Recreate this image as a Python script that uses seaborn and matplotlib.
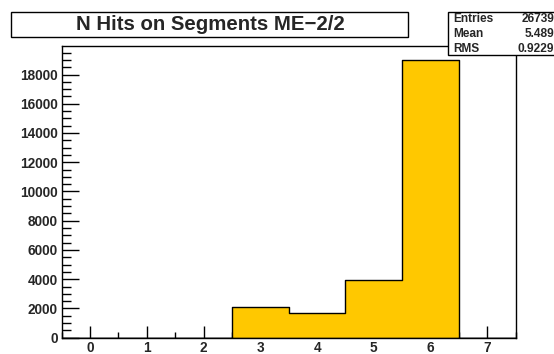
import numpy as np
import pandas as pd
import matplotlib
matplotlib.use("Agg")
import matplotlib.pyplot as plt
from matplotlib.patches import Rectangle
from matplotlib.ticker import MultipleLocator
import seaborn as sns

# Histogram contents: number of hits per segment (bins 0..7)
n_hits = [0, 1, 2, 3, 4, 5, 6, 7]
counts = [0, 0, 0, 2125, 1675, 3939, 19000, 0]
x_ticks = [0, 1, 2, 3, 4, 5, 6, 7]
y_ticks = [0, 2000, 4000, 6000, 8000, 10000, 12000, 14000, 16000, 18000]
title = "N Hits on Segments ME\u22122/2"
stat_names = ["Entries", "Mean", "RMS"]
stat_values = ["26739", "5.489", "0.9229"]

sns.set_theme(style="white")
plt.rcParams["font.family"] = ["Liberation Sans", "DejaVu Sans"]
plt.rcParams["font.weight"] = "bold"

W, H = 554, 354
fig = plt.figure(figsize=(W / 100, H / 100), dpi=100)
fig.patch.set_facecolor("white")


def fx(x):
    return x / W


def fy(y):
    return 1 - y / H


left, right, top, bottom = 61.7, 515.7, 46.0, 337.7
ax = fig.add_axes([fx(left), fy(bottom), fx(right) - fx(left), fy(top) - fy(bottom)])

df = pd.DataFrame({"nhits": n_hits, "count": counts})
sns.histplot(
    data=df, x="nhits", weights="count",
    binwidth=1.0, binrange=(-0.5, 7.5),
    element="step", fill=True, color="#ffc800", alpha=1.0,
    edgecolor="black", linewidth=1.0, ax=ax,
)

ax.set_xlim(-0.5, 7.5)
ax.set_ylim(0, max(counts) * 1.05)
ax.set_xlabel("")
ax.set_ylabel("")
ax.set_xticks(x_ticks)
ax.set_yticks(y_ticks)
ax.xaxis.set_minor_locator(MultipleLocator(0.5))
ax.yaxis.set_minor_locator(MultipleLocator(500))
ax.tick_params(axis="both", which="both", direction="in", color="black",
               width=1.0, labelsize=9.8, bottom=True, left=True, top=False, right=False)
ax.tick_params(axis="y", which="major", length=12.5, pad=3)
ax.tick_params(axis="y", which="minor", length=6.5)
ax.tick_params(axis="x", which="major", length=8.5, pad=2.5)
ax.tick_params(axis="x", which="minor", length=4.5)
for lab in ax.get_xticklabels() + ax.get_yticklabels():
    lab.set_fontweight("bold")
for sp in ax.spines.values():
    sp.set_visible(True)
    sp.set_color("black")
    sp.set_linewidth(1.0)
ax.set_facecolor("white")

# Title pave
fig.patches.append(Rectangle((fx(10.6), fy(37.0)), fx(408) - fx(10.6), fy(12.4) - fy(37.0),
                             transform=fig.transFigure, facecolor="white",
                             edgecolor="black", linewidth=1.0, zorder=5))
fig.text(fx(210.5), fy(25.0), title, ha="center", va="center",
         fontsize=14.7, fontweight="bold", zorder=6)

# Statistics box
fig.patches.append(Rectangle((fx(448.3), fy(55.0)), fx(570) - fx(448.3), fy(12.3) - fy(55.0),
                             transform=fig.transFigure, facecolor="white",
                             edgecolor="black", linewidth=1.0, zorder=5, clip_on=False))
for i, (name, val) in enumerate(zip(stat_names, stat_values)):
    yc = 19.5 + 14.8 * i
    fig.text(fx(453.3), fy(yc), name, ha="left", va="center",
             fontsize=8.6, fontweight="bold", zorder=6)
    fig.text(fx(554.5), fy(yc), val, ha="right", va="center",
             fontsize=8.6, fontweight="bold", zorder=6)

fig.savefig("out.png", dpi=100, facecolor="white")
